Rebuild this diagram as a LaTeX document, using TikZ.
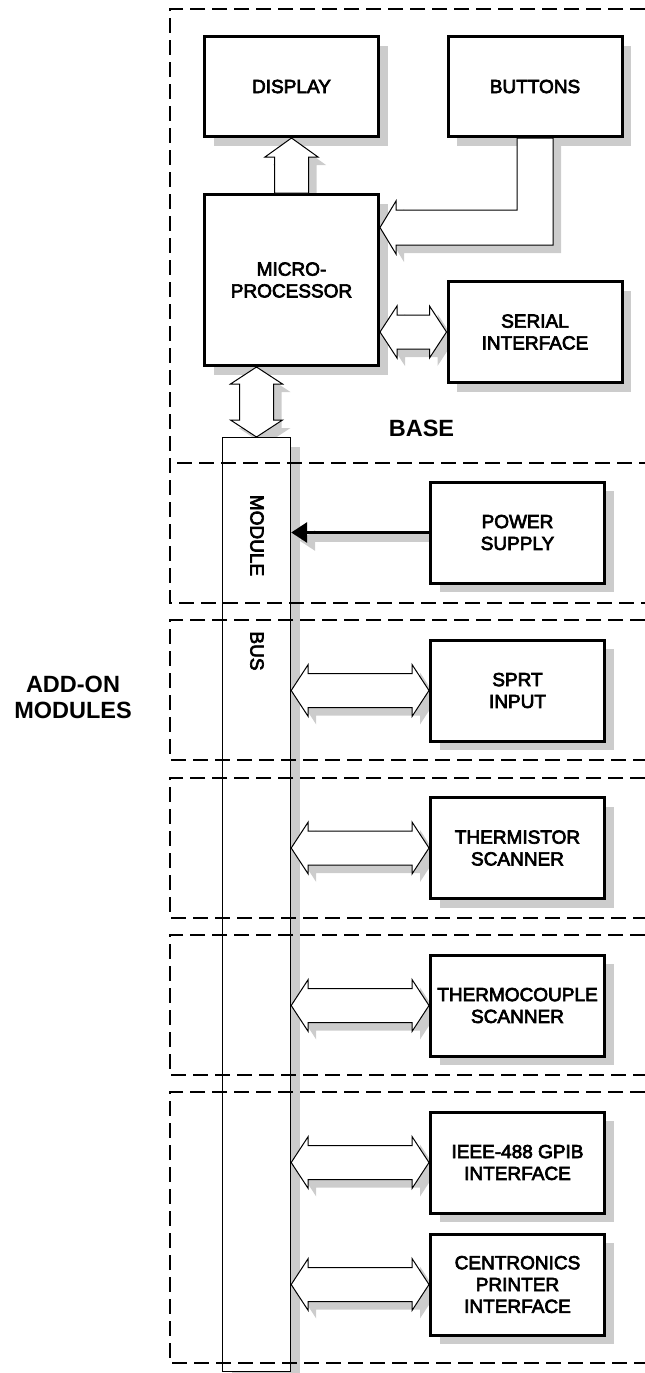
\documentclass[tikz,border=0pt]{standalone}
\usepackage{fontspec}
\setmainfont{Liberation Sans}
\newfontfamily\medsans{Liberation Sans}[FakeBold=3.5]
\usetikzlibrary{calc,shadows,backgrounds,arrows.meta}
\definecolor{shadowgray}{HTML}{CCCCCC}
\tikzset{
  blockbox/.style={draw, line width=3pt, fill=white, minimum width=174pt, minimum height=101pt,
                   align=center, font=\medsans\fontsize{19}{21.8}\selectfont,
                   general shadow={fill=shadowgray, shadow xshift=9pt, shadow yshift=-9pt}},
  busbox/.style={draw, line width=1.4pt, fill=white, minimum width=68pt, minimum height=933.6pt,
                 general shadow={fill=shadowgray, shadow xshift=9pt, shadow yshift=-9pt}},
  zone/.style={dash pattern=on 15pt off 7pt, line width=1.4pt},
  fatarrow/.style={draw, fill=white, line width=1pt, line join=miter},
  fatshadow/.style={fill=shadowgray, transform canvas={xshift=8pt, yshift=-8pt}},
  powerarr/.style={line width=3pt, -{Triangle[length=16pt,width=20pt]}},
  title/.style={align=center, font=\bfseries\fontsize{23.5}{26}\selectfont},
  buslabel/.style={rotate=-90, font=\medsans\fontsize{19}{20}\selectfont}}

% hollow double arrow, left tip #2, right tip #3
\newcommand{\hfatpath}[3]{%
  \path[#1] (#2) -- ($(#2)+(17,-26)$) -- ($(#2)+(17,-17)$) -- ($(#3)+(-17,-17)$)
    -- ($(#3)+(-17,-26)$) -- (#3) -- ($(#3)+(-17,26)$) -- ($(#3)+(-17,17)$)
    -- ($(#2)+(17,17)$) -- ($(#2)+(17,26)$) -- cycle;}
% hollow double arrow, top tip #2, bottom tip #3
\newcommand{\vfatpath}[3]{%
  \path[#1] (#2) -- ($(#2)+(26,17)$) -- ($(#2)+(17,17)$) -- ($(#3)+(17,-17)$)
    -- ($(#3)+(26,-17)$) -- (#3) -- ($(#3)+(-26,-17)$) -- ($(#3)+(-17,-17)$)
    -- ($(#2)+(-17,17)$) -- ($(#2)+(-26,17)$) -- cycle;}
% hollow single arrow pointing up, base #2, tip #3
\newcommand{\upfatpath}[3]{%
  \path[#1] ($(#2)+(-17,0)$) -- ($(#3)+(-17,19)$) -- ($(#3)+(-26.5,19)$) -- (#3)
    -- ($(#3)+(26.5,19)$) -- ($(#3)+(17,19)$) -- ($(#2)+(17,0)$) -- cycle;}
% bent hollow arrow from the buttons
\newcommand{\bentfatpath}[1]{%
  \path[#1] (btn-a) |- ($(btip)+(16,-17.5)$) -- ($(btip)+(16,-26.5)$) -- (btip)
    -- ($(btip)+(16,26.5)$) -- ($(btip)+(16,17.5)$) -| (btn-b) -- cycle;}

\begin{document}
\begin{tikzpicture}[x=1pt, y=-1pt]
  \useasboundingbox (0,0) rectangle (645,1373);

  % bus first, the zones run over it
  \node[busbox] (bus) at (256.5,904.5) {};

  \draw[zone] (645,9) -- (170,9) -- (170,603) -- (645,603);
  \draw[zone] (177,463) -- (645,463);
  \foreach \ztop/\zbot in {620/760, 778/918, 935/1075, 1092/1363}
    \draw[zone] (645,\ztop) -- (170,\ztop) -- (170,\zbot) -- (645,\zbot);

  \node[buslabel] (modlabel) at (257,535.5) {MODULE};
  \node[buslabel] (buslbl) at (257,651) {BUS};

  % base unit
  \node[blockbox, minimum height=100pt] (display) at (291.5,86.5) {DISPLAY};
  \node[blockbox, minimum height=100pt] (buttons) at (535,86.5) {BUTTONS};
  \node[blockbox, minimum height=171pt] (micro) at (291.5,280) {MICRO-\\PROCESSOR};
  \node[blockbox] (serial) at (535,332) {SERIAL\\INTERFACE};
  \node[blockbox] (power) at (517.5,532.5) {POWER\\SUPPLY};

  % add-on modules
  \node[blockbox] (sprt) at (517.5,690.5) {SPRT\\INPUT};
  \node[blockbox] (therm) at (517.5,848) {THERMISTOR\\SCANNER};
  \node[blockbox] (tcouple) at (517.5,1005.5) {THERMOCOUPLE\\SCANNER};
  \node[blockbox] (ieee) at (517.5,1162.5) {IEEE-488 GPIB\\INTERFACE};
  \node[blockbox] (centr) at (517.5,1284.5) {CENTRONICS\\PRINTER\\INTERFACE};

  \node[title] (baselbl) at (421.5,428.5) {BASE};
  \node[title] (addlbl) at (73,697) {ADD-ON\\MODULES};

  % connectors
  \coordinate (btn-a) at ($(buttons.south)+(-18,0)$);
  \coordinate (btn-b) at ($(buttons.south)+(18,0)$);
  \coordinate (btip) at ($(micro.north east)+(0,34.5)$);
  \coordinate (micro-bus) at (bus.north |- micro.south);
  \coordinate (micro-ser) at (micro.east |- serial.west);
  \coordinate (power-bus) at (bus.east |- power.west);

  \begin{pgfonlayer}{background}
    \upfatpath{fatshadow}{micro.north}{display.south}
    \bentfatpath{fatshadow}
    \hfatpath{fatshadow}{micro-ser}{serial.west}
    \vfatpath{fatshadow}{micro-bus}{bus.north}
    \draw[shadowgray, line width=8pt, transform canvas={xshift=8pt, yshift=-5pt}] (power.west) -- ($(power-bus)+(12,0)$);
    \draw[powerarr, shadowgray, transform canvas={xshift=8pt, yshift=-8pt}] (power.west) -- (power-bus);
  \end{pgfonlayer}
  \upfatpath{fatarrow}{micro.north}{display.south}
  \bentfatpath{fatarrow}
  \hfatpath{fatarrow}{micro-ser}{serial.west}
  \vfatpath{fatarrow}{micro-bus}{bus.north}
  \draw[powerarr] (power.west) -- (power-bus);

  \foreach \mod in {sprt,therm,tcouple,ieee,centr} {
    \coordinate (\mod-bus) at (bus.east |- \mod.west);
    \begin{pgfonlayer}{background}
      \hfatpath{fatshadow}{\mod-bus}{\mod.west}
    \end{pgfonlayer}
    \hfatpath{fatarrow}{\mod-bus}{\mod.west}
  }
\end{tikzpicture}
\end{document}
